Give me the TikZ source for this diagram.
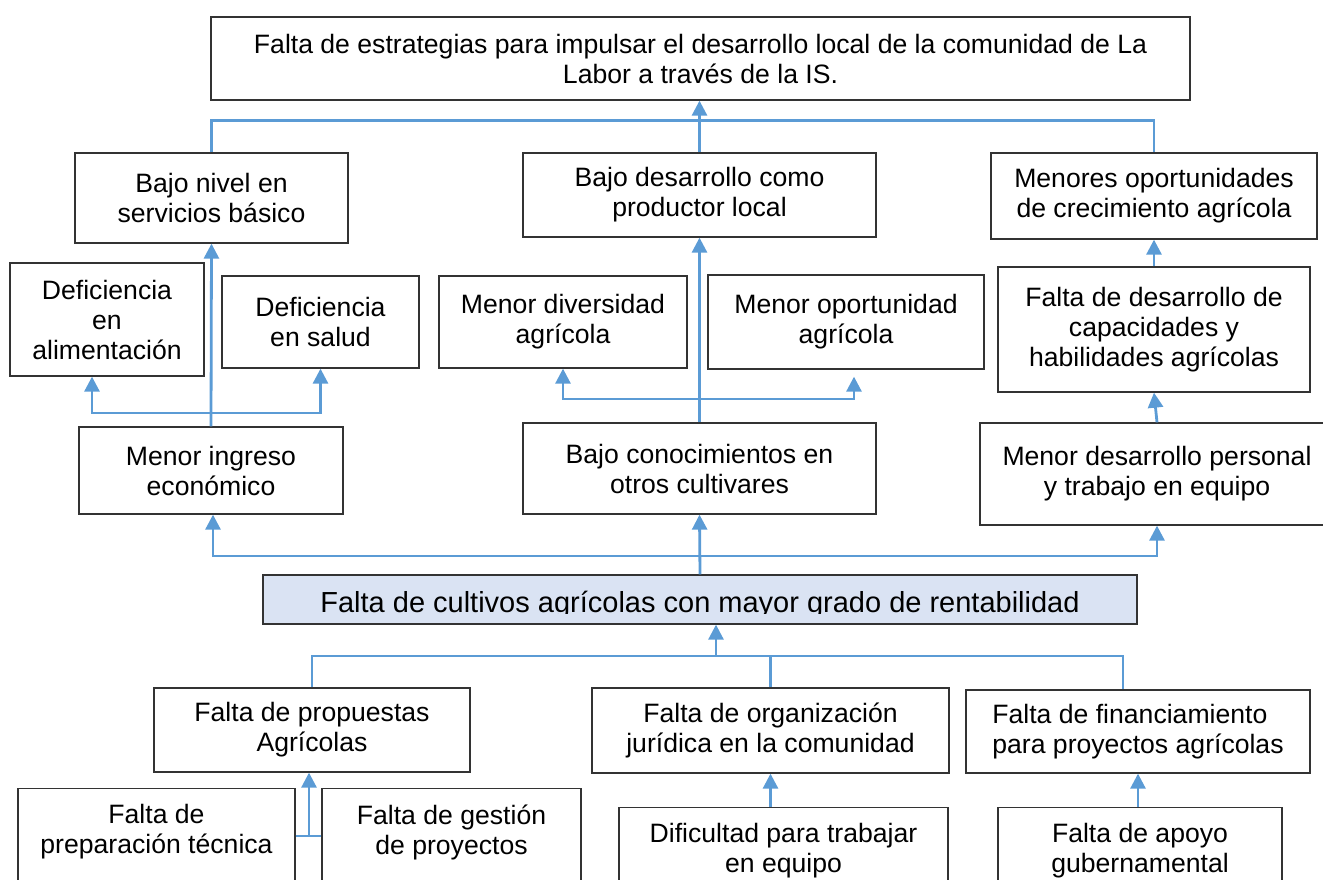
\documentclass[tikz,border=0pt]{standalone}
\usepackage{fontspec}
\setmainfont{Liberation Sans}
\usetikzlibrary{arrows.meta}
\definecolor{linkblue}{HTML}{5B9BD5}
\definecolor{corefill}{HTML}{DAE3F3}
\def\boxfont{\fontsize{26.6}{30}\selectfont}
\def\corefont{\fontsize{29}{33}\selectfont}

\begin{document}
\begin{tikzpicture}[x=1pt, y=-1pt, box/.style={rectangle, draw=black!80, line width=1.3pt, align=center, font=\boxfont, inner sep=0pt}, cutbox/.style={box, anchor=north, inner ysep=16pt, text depth=80pt}, link/.style={draw=linkblue, line width=2.8pt}, arrow/.style={link, -{Triangle[width=15pt,length=15pt]}}]

  \useasboundingbox (0,0) rectangle (1323,879);

  % effects
  \node[box, minimum width=979, minimum height=83] (goal) at (700.5,58.5) {Falta de estrategias para impulsar el desarrollo local de la comunidad de La\\Labor a través de la IS.};
  \node[box, minimum width=273, minimum height=90] (servicios) at (211.5,198) {Bajo nivel en\\servicios básico};
  \node[box, minimum width=353, minimum height=84] (productor) at (699.5,195) {Bajo desarrollo como\\productor local};
  \node[box, minimum width=326, minimum height=86] (crecimiento) at (1154,196) {Menores oportunidades\\de crecimiento agrícola};
  \node[box, minimum width=194, minimum height=113] (alimentacion) at (107,319.5) {Deficiencia\\en\\alimentación};
  \node[box, minimum width=197, minimum height=92] (salud) at (320.5,322) {Deficiencia\\en salud};
  \node[box, minimum width=248, minimum height=92] (diversidad) at (563,322) {Menor diversidad\\agrícola};
  \node[box, minimum width=276, minimum height=94] (oportunidad) at (846,322) {Menor oportunidad\\agrícola};
  \node[box, minimum width=312, minimum height=125] (capacidades) at (1154,329.5) {Falta de desarrollo de\\capacidades y\\habilidades agrícolas};
  \node[box, minimum width=264, minimum height=87] (ingreso) at (211,470.5) {Menor ingreso\\económico};
  \node[box, minimum width=353, minimum height=91] (conocimientos) at (699.5,468.5) {Bajo conocimientos en\\otros cultivares};
  \node[box, minimum width=354, minimum height=102] (personal) at (1157,474) {Menor desarrollo personal\\y trabajo en equipo};

  % core problem
  \node[box, fill=corefill, minimum width=874, minimum height=49] (core) at (700,599.5) {};
  \begin{scope}
    \clip (core.north west) rectangle ([yshift=11pt]core.south east);
    \node[font=\corefont, anchor=base] (coretext) at (700,612) {Falta de cultivos agrícolas con mayor grado de rentabilidad};
  \end{scope}

  % causes
  \node[box, minimum width=316, minimum height=84] (propuestas) at (312,730) {Falta de propuestas\\Agrícolas};
  \node[box, minimum width=357, minimum height=85] (juridica) at (770.5,730.5) {Falta de organización\\jurídica en la comunidad};
  \node[box, align=left, minimum width=344, minimum height=83] (financiamiento) at (1138,731.5) {Falta de financiamiento\\para proyectos agrícolas};
  \node[cutbox, minimum width=277] (preparacion) at (156.5,788) {Falta de\\preparación técnica};
  \node[cutbox, minimum width=259] (gestion) at (451.5,788) {Falta de gestión\\de proyectos};
  \node[cutbox, minimum width=329] (equipo) at (783.5,807) {Dificultad para trabajar\\en equipo};
  \node[cutbox, minimum width=284] (apoyo) at (1140,807) {Falta de apoyo\\gubernamental};

  % connectors above the core
  \draw[link] (servicios.north) -- ++(0,-32) -| (crecimiento.north);
  \draw[arrow] (productor.north) -- (productor.north |- goal.south);
  \draw[arrow] (ingreso.north) -- (servicios.south);
  \coordinate (ingbar) at (211,413);
  \draw[arrow] (ingbar) -| ([xshift=-15pt]alimentacion.south);
  \draw[arrow] (ingbar) -| (salud.south);
  \draw[arrow] (conocimientos.north) -- (productor.south);
  \coordinate (conbar) at (699.5,399);
  \draw[arrow] (conbar) -| (diversidad.south);
  \draw[arrow, shorten >=7pt] (conbar) -| ([xshift=8pt]oportunidad.south);
  \draw[arrow] (capacidades.north) -- (crecimiento.south);
  \draw[arrow] (personal.north) -- (capacidades.south);
  \coordinate (corebar) at (700,556);
  \draw[arrow] (core.north) -- (conocimientos.south);
  \draw[arrow] (corebar) -| ([xshift=2pt]ingreso.south);
  \draw[arrow] (corebar) -| (personal.south);

  % connectors below the core
  \coordinate (causebar) at (716,656);
  \draw[arrow] (causebar) -- (causebar |- core.south);
  \draw[link] (propuestas.north) |- (causebar) -| ([xshift=-15pt]financiamiento.north);
  \draw[link] (juridica.north) -- (juridica.north |- causebar);
  \coordinate (propjoin) at (309,836);
  \draw[link] (propjoin -| preparacion.east) -- (propjoin -| gestion.west);
  \draw[arrow] (propjoin) -- (propjoin |- propuestas.south);
  \draw[arrow] (equipo.north -| juridica.south) -- (juridica.south);
  \draw[arrow] (apoyo.north -| financiamiento.south) -- (financiamiento.south);
\end{tikzpicture}
\end{document}
